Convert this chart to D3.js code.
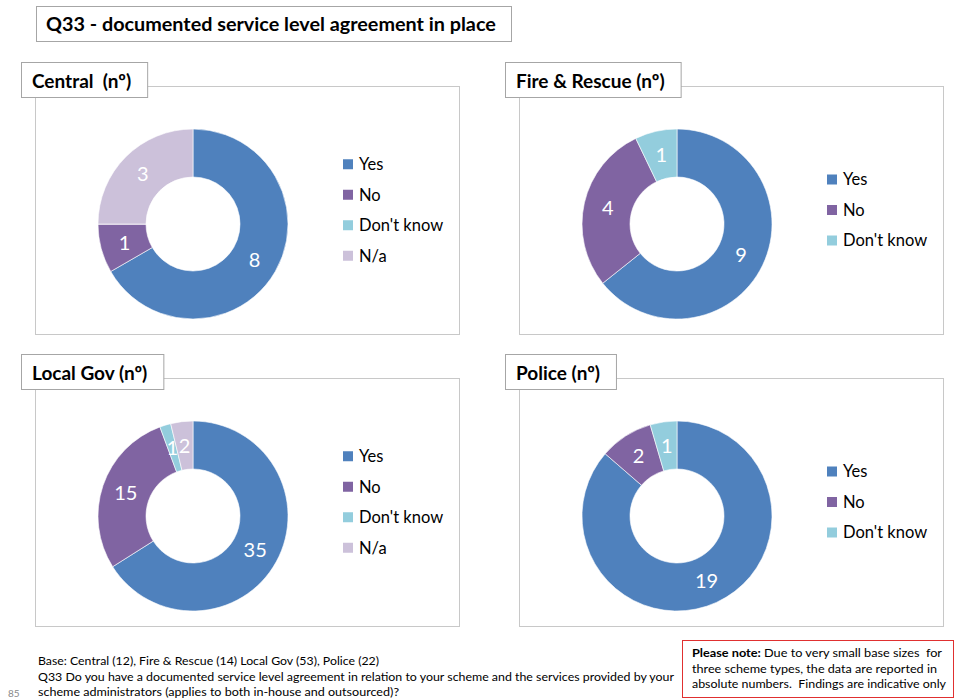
<!DOCTYPE html>
<html>
<head>
<meta charset="utf-8">
<script src="https://cdn.jsdelivr.net/npm/d3@7"></script>
<style>
  body { margin: 0; background: #fff; }
  svg { font-family: Lato, "Open Sans", sans-serif; }
</style>
</head>
<body>
<div id="chart"></div>
<script>
// answer categories and counts per scheme type
const categories = ["Yes", "No", "Don't know", "N/a"];
const centralValues = [8, 1, 0, 3];
const fireValues = [9, 4, 1];
const localGovValues = [35, 15, 1, 2];
const policeValues = [19, 2, 1];
const panelTitles = ["Central  (n\u00BA)", "Fire & Rescue (n\u00BA)", "Local Gov (n\u00BA)", "Police (n\u00BA)"];

const colors = ["#4F81BD", "#8064A2", "#93CDDD", "#CCC1DA"];

const width = 954, height = 700;
const svg = d3.select("#chart").append("svg")
    .attr("width", width)
    .attr("height", height);

// title
svg.append("rect")
    .attr("x", 36.5).attr("y", 6.5)
    .attr("width", 475).attr("height", 35)
    .attr("fill", "#fff").attr("stroke", "#a6a6a6");
svg.append("text")
    .attr("x", 46).attr("y", 31)
    .attr("font-size", 19.8).attr("font-weight", "bold")
    .attr("fill", "#000")
    .text("Q33 - documented service level agreement in place");

const panels = [
    { title: panelTitles[0], values: centralValues, x: 35, y: 86 },
    { title: panelTitles[1], values: fireValues, x: 519, y: 86 },
    { title: panelTitles[2], values: localGovValues, x: 35, y: 378 },
    { title: panelTitles[3], values: policeValues, x: 519, y: 378 },
];

const frameW = 424, frameH = 248;
const outerR = 95, innerR = 47;

const pie = d3.pie().sort(null).value((d) => d.value);
const arc = d3.arc().innerRadius(innerR).outerRadius(outerR);

panels.forEach((p) => {
    const g = svg.append("g").attr("transform", `translate(${p.x},${p.y})`);
    const data = p.values.map((v, i) => ({ cat: categories[i], value: v, color: colors[i] }));

    g.append("rect")
        .attr("x", 0.5).attr("y", 0.5)
        .attr("width", frameW).attr("height", frameH)
        .attr("fill", "#fff").attr("stroke", "#c8c8c8");

    const donut = g.append("g").attr("transform", "translate(158,138)");
    const arcs = pie(data);
    donut.selectAll("path")
        .data(arcs)
        .join("path")
        .attr("d", arc)
        .attr("fill", (d) => d.data.color)
        .attr("stroke", "#fff")
        .attr("stroke-width", 0.6);

    donut.selectAll("text")
        .data(arcs.filter((d) => d.data.value > 0))
        .join("text")
        .attr("x", (d) => arc.centroid(d)[0])
        .attr("y", (d) => arc.centroid(d)[1])
        .attr("dy", "0.36em")
        .attr("text-anchor", "middle")
        .attr("font-size", 20)
        .attr("fill", "#fff")
        .text((d) => d.data.value);

    // legend
    const step = 30.5;
    const ly = 124 - (data.length - 1) * step / 2;
    const leg = g.append("g").selectAll("g")
        .data(data)
        .join("g")
        .attr("transform", (d, i) => `translate(308,${ly + i * step})`);
    leg.append("rect")
        .attr("x", 0).attr("y", -5)
        .attr("width", 10).attr("height", 10)
        .attr("fill", (d) => d.color);
    leg.append("text")
        .attr("x", 16).attr("y", 0)
        .attr("dy", "0.35em")
        .attr("font-size", 16.5)
        .attr("fill", "#000")
        .text((d) => d.cat);

    // header box
    const head = g.append("g");
    const ht = head.append("text")
        .attr("x", -3).attr("y", 0)
        .attr("dy", "0.35em")
        .attr("xml:space", "preserve")
        .attr("font-size", 19).attr("font-weight", "bold")
        .attr("fill", "#000")
        .text(p.title);
    const tw = ht.node().getComputedTextLength();
    head.insert("rect", "text")
        .attr("x", -13.5).attr("y", -23.5)
        .attr("width", tw + 27).attr("height", 35)
        .attr("fill", "#fff").attr("stroke", "#a6a6a6");
    ht.attr("y", -5);
});

// footnotes
const foot = [
    "Base: Central (12), Fire & Rescue (14) Local Gov (53), Police (22)",
    "Q33 Do you have a documented service level agreement in relation to your scheme and the services provided by your",
    "scheme administrators (applies to both in-house and outsourced)?",
];
const footLen = [341, 636, 361];
svg.append("g").selectAll("text")
    .data(foot)
    .join("text")
    .attr("x", 38)
    .attr("y", (d, i) => 665 + i * 15.5)
    .attr("font-size", 12)
    .attr("fill", "#000")
    .attr("textLength", (d, i) => footLen[i])
    .attr("lengthAdjust", "spacingAndGlyphs")
    .text((d) => d);

svg.append("text")
    .attr("x", 8).attr("y", 697)
    .attr("font-size", 10).attr("fill", "#888")
    .text("85");

svg.append("rect")
    .attr("x", 682.5).attr("y", 640.5)
    .attr("width", 271).attr("height", 57)
    .attr("fill", "#fff").attr("stroke", "#e03030").attr("stroke-width", 1);
const note = svg.append("g");
const noteLines = [
    [["Please note:", true], [" Due to very small base sizes  for", false]],
    [["three scheme types, the data are reported in", false]],
    [["absolute numbers.  Findings are indicative only", false]],
];
const noteLen = [250, 245, 254];
noteLines.forEach((line, i) => {
    const t = note.append("text")
        .attr("x", 692)
        .attr("y", 657 + i * 15.5)
        .attr("font-size", 11.5)
        .attr("fill", "#000")
        .attr("xml:space", "preserve")
        .attr("textLength", noteLen[i])
        .attr("lengthAdjust", "spacingAndGlyphs");
    line.forEach(([s, b]) => {
        t.append("tspan").attr("font-weight", b ? "bold" : "normal").text(s);
    });
});
</script>
</body>
</html>
